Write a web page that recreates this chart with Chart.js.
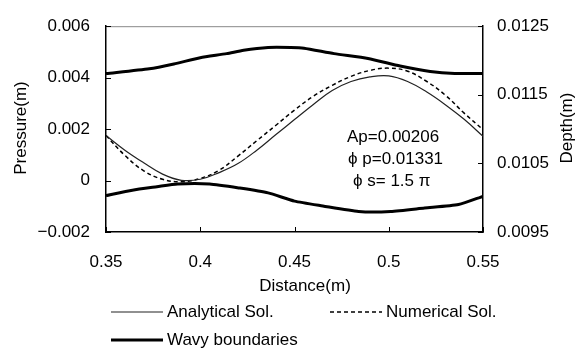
<!DOCTYPE html>
<html lang="en">
<head>
<meta charset="UTF-8">
<title>Pressure and Depth along Distance</title>
<script src="https://cdn.jsdelivr.net/npm/chart.js"></script>
<style>
  body { margin: 0; background: #fff; }
  #wrap { width: 578px; height: 348px; }
</style>
</head>
<body>
<div id="wrap"><canvas id="pressureChart" width="578" height="348"></canvas></div>
<script>
// distance (m) and pressure (m) for both solutions
const distance   = [0.35, 0.36, 0.37, 0.38, 0.39, 0.40, 0.41, 0.42, 0.43, 0.44, 0.45,
                    0.46, 0.47, 0.48, 0.49, 0.50, 0.51, 0.52, 0.53, 0.54, 0.55];
const analytical = [0.00175, 0.00118, 0.00069, 0.00025, 0.00001, 0.00005, 0.00031, 0.00066, 0.00118, 0.00178, 0.00237,
                    0.00296, 0.00350, 0.00385, 0.00403, 0.00407, 0.00385, 0.00345, 0.00295, 0.00238, 0.00172];
const numerical  = [0.00175, 0.00098, 0.00038, 0.00005, -0.00005, 0.00008, 0.00040, 0.00095, 0.00155, 0.00214, 0.00274,
                    0.00328, 0.00370, 0.00405, 0.00428, 0.00437, 0.00425, 0.00386, 0.00332, 0.00262, 0.00198];

// wavy boundaries, depth (m)
const upperDist  = [0.35, 0.373, 0.386, 0.40, 0.414, 0.423, 0.436, 0.448, 0.455, 0.471, 0.489, 0.506, 0.522, 0.535, 0.55];
const upperDepth = [0.01181, 0.01188, 0.01195, 0.01204, 0.01210, 0.01215, 0.01219, 0.01219, 0.01218, 0.01210, 0.01203, 0.01192, 0.01184, 0.01181, 0.01181];
const lowerDist  = [0.35, 0.364, 0.377, 0.388, 0.405, 0.421, 0.436, 0.45, 0.465, 0.484, 0.501, 0.519, 0.537, 0.55];
const lowerDepth = [0.01003, 0.01011, 0.01016, 0.01020, 0.01020, 0.01014, 0.01007, 0.00995, 0.00988, 0.00980, 0.00980, 0.00985, 0.00990, 0.01002];

const distanceTicks  = [0.35, 0.40, 0.45, 0.50, 0.55];
const distanceLabels = ['0.35', '0.4', '0.45', '0.5', '0.55'];
const pressureTicks  = [-0.002, 0, 0.002, 0.004, 0.006];
const pressureLabels = ['\u22120.002', '0', '0.002', '0.004', '0.006'];
const depthTicks     = [0.0095, 0.0105, 0.0115, 0.0125];
const depthLabels    = ['0.0095', '0.0105', '0.0115', '0.0125'];

const notes = ['Ap=0.00206', '\u03d5 p=0.01331', '\u03d5 s= 1.5 \u03c0'];

const FAMILY = '"Liberation Sans", Arial, sans-serif';
const FONT = '17px ' + FAMILY;

function pairs(xs, ys) {
  return xs.map((x, i) => ({ x: x, y: ys[i] }));
}

function strokeLine(ctx, x1, y1, x2, y2) {
  ctx.beginPath();
  ctx.moveTo(x1, y1);
  ctx.lineTo(x2, y2);
  ctx.stroke();
}

// frame top, inward ticks, titles, notes and legend
const decorations = {
  id: 'decorations',
  afterDraw(chart) {
    const { ctx, chartArea: a, scales } = chart;
    ctx.save();

    ctx.strokeStyle = '#888';
    ctx.lineWidth = 1;
    strokeLine(ctx, a.left, a.top + 0.5, a.right, a.top + 0.5);

    ctx.strokeStyle = '#000';
    ctx.lineWidth = 1;
    scales.x.ticks.forEach(t => {
      const px = Math.round(scales.x.getPixelForValue(t.value)) + 0.5;
      strokeLine(ctx, px, a.bottom, px, a.bottom - 5);
    });
    scales.y.ticks.forEach(t => {
      const py = Math.round(scales.y.getPixelForValue(t.value)) + 0.5;
      strokeLine(ctx, a.left, py, a.left + 5, py);
    });
    scales.y1.ticks.forEach(t => {
      const py = Math.round(scales.y1.getPixelForValue(t.value)) + 0.5;
      strokeLine(ctx, a.right, py, a.right - 5, py);
    });

    ctx.fillStyle = '#000';
    ctx.font = FONT;
    ctx.textBaseline = 'middle';

    // axis titles
    ctx.textAlign = 'center';
    ctx.fillText('Distance(m)', 305, 286);
    ctx.save();
    ctx.translate(21, 128);
    ctx.rotate(-Math.PI / 2);
    ctx.fillText('Pressure(m)', 0, 0);
    ctx.restore();
    ctx.save();
    ctx.translate(567, 128);
    ctx.rotate(-Math.PI / 2);
    ctx.fillText('Depth(m)', 0, 0);
    ctx.restore();

    // parameter notes
    ctx.textAlign = 'left';
    ctx.fillText(notes[0], 347, 137);
    ctx.fillText(notes[1], 348, 159);
    ctx.fillText(notes[2], 353, 181);

    // legend
    const ds = chart.data.datasets;
    const items = [
      { d: ds[0], x: 111, y: 312 },
      { d: ds[1], x: 330, y: 312 },
      { d: ds[2], x: 111, y: 340 }
    ];
    items.forEach(it => {
      ctx.strokeStyle = it.d.borderColor;
      ctx.lineWidth = it.d.borderWidth;
      ctx.setLineDash(it.d.borderDash || []);
      strokeLine(ctx, it.x, it.y, it.x + 52, it.y);
      ctx.setLineDash([]);
      ctx.fillText(it.d.label, it.x + 56, it.y);
    });

    ctx.restore();
  }
};

const tickFont = { family: FAMILY, size: 17 };

new Chart(document.getElementById('pressureChart'), {
  type: 'line',
  data: {
    datasets: [
      {
        label: 'Analytical Sol.',
        data: pairs(distance, analytical),
        yAxisID: 'y',
        borderColor: '#222',
        borderWidth: 1.2,
        tension: 0.4,
        pointRadius: 0
      },
      {
        label: 'Numerical Sol.',
        data: pairs(distance, numerical),
        yAxisID: 'y',
        borderColor: '#000',
        borderWidth: 1.5,
        borderDash: [4, 3],
        tension: 0.4,
        pointRadius: 0
      },
      {
        label: 'Wavy boundaries',
        data: pairs(upperDist, upperDepth),
        yAxisID: 'y1',
        borderColor: '#000',
        borderWidth: 3,
        tension: 0.2,
        pointRadius: 0
      },
      {
        label: 'Wavy boundaries',
        data: pairs(lowerDist, lowerDepth),
        yAxisID: 'y1',
        borderColor: '#000',
        borderWidth: 3,
        tension: 0.2,
        pointRadius: 0
      }
    ]
  },
  options: {
    responsive: false,
    animation: false,
    layout: { padding: { top: 18, left: 0, right: 0, bottom: 0 } },
    plugins: {
      legend: { display: false },
      tooltip: { enabled: false }
    },
    scales: {
      x: {
        type: 'linear',
        min: 0.35,
        max: 0.55,
        grid: { display: false, drawTicks: false },
        border: { color: '#000', width: 1.5 },
        afterBuildTicks: s => { s.ticks = distanceTicks.map(v => ({ value: v })); },
        afterFit: s => { s.height = 116; },
        ticks: {
          callback: (v, i) => distanceLabels[i],
          color: '#000',
          font: tickFont,
          padding: 20,
          maxRotation: 0,
          autoSkip: false
        }
      },
      y: {
        position: 'left',
        min: -0.002,
        max: 0.006,
        grid: { display: false, drawTicks: false },
        border: { color: '#000', width: 1.5 },
        afterBuildTicks: s => { s.ticks = pressureTicks.map(v => ({ value: v })); },
        afterFit: s => { s.width = 106; },
        ticks: {
          callback: (v, i) => pressureLabels[i],
          color: '#000',
          font: tickFont,
          padding: 16,
          autoSkip: false
        }
      },
      y1: {
        position: 'right',
        min: 0.0095,
        max: 0.0125,
        grid: { display: false, drawTicks: false },
        border: { color: '#000', width: 1.5 },
        afterBuildTicks: s => { s.ticks = depthTicks.map(v => ({ value: v })); },
        afterFit: s => { s.width = 95; },
        ticks: {
          callback: (v, i) => depthLabels[i],
          color: '#000',
          font: tickFont,
          padding: 14,
          autoSkip: false
        }
      }
    }
  },
  plugins: [decorations]
});
</script>
</body>
</html>
